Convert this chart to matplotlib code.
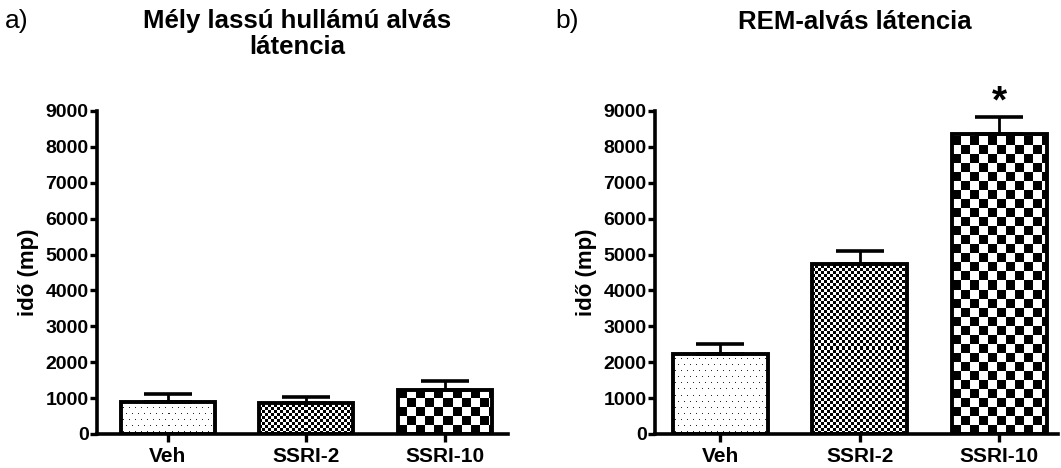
import numpy as np
import matplotlib
matplotlib.use("Agg")
import matplotlib.pyplot as plt

plt.rcParams['font.family'] = ['Liberation Sans', 'DejaVu Sans']

categories = ["Veh", "SSRI-2", "SSRI-10"]
swsl_mean = [890, 850, 1225]
swsl_sem = [220, 180, 255]
rem_mean = [2240, 4740, 8370]
rem_sem = [270, 370, 470]
patterns = ["dots", "fine", "coarse"]
yticks = [0, 1000, 2000, 3000, 4000, 5000, 6000, 7000, 8000, 9000]

W, H, DPI = 1061, 468, 100
fig = plt.figure(figsize=(W / DPI, H / DPI), dpi=DPI)


def make_pattern(kind, w, h):
    yy, xx = np.mgrid[0:h, 0:w]
    if kind == "coarse":
        c = 9
        img = np.where(((xx // c) + (yy // c)) % 2 == 0, 0.0, 1.0)
    elif kind == "fine":
        c = 3
        img = np.where(((xx // c) + (yy // c)) % 2 == 0, 0.0, 1.0)
    else:
        p = 6
        row = yy // p
        shift = (row % 2) * (p // 2)
        dots = ((yy % p) == 2) & (((xx + shift) % p) == 2)
        img = np.where(dots, 0.15, 1.0)
    return img


def panel(rect, means, sems, xlim, star=False):
    ax = fig.add_axes(rect)
    x = np.arange(len(categories))
    ax.set_xlim(*xlim)
    ax.set_ylim(0, 9000)
    bars = ax.bar(x, means, width=0.68, facecolor='none', edgecolor='black',
                  linewidth=2.8, zorder=3)
    fig.canvas.draw()
    for b, kind in zip(bars, patterns):
        x0, y0 = b.get_x(), b.get_y()
        x1, y1 = x0 + b.get_width(), y0 + b.get_height()
        p0 = ax.transData.transform((x0, y0))
        p1 = ax.transData.transform((x1, y1))
        wpx = max(int(round(abs(p1[0] - p0[0]))), 1)
        hpx = max(int(round(abs(p1[1] - p0[1]))), 1)
        img = make_pattern(kind, wpx, hpx)
        im = ax.imshow(img, cmap='gray', vmin=0, vmax=1, extent=(x0, x1, y0, y1),
                       origin='lower', interpolation='nearest', aspect='auto', zorder=2)
        im.set_clip_path(b)
    ax.set_aspect('auto')
    ax.set_xlim(*xlim)
    ax.set_ylim(0, 9000)
    ax.errorbar(x, means, yerr=[np.zeros(len(sems)), sems], fmt='none',
                ecolor='black', elinewidth=2.0, capsize=17, capthick=2.6, zorder=4)
    for s in ['top', 'right']:
        ax.spines[s].set_visible(False)
    for s in ['left', 'bottom']:
        ax.spines[s].set_linewidth(2.6)
    ax.set_yticks(yticks)
    ax.set_xticks(x)
    ax.set_xticklabels(categories, fontsize=15, fontweight='bold')
    ax.tick_params(axis='y', labelsize=14, width=2.4, length=5, pad=1)
    for t in ax.get_yticklabels():
        t.set_fontweight('bold')
    ax.tick_params(axis='x', width=2.4, length=6, pad=3)
    ax.set_ylabel("idő (mp)", fontsize=16, fontweight='bold', labelpad=5)
    if star:
        ax.text(x[-1], means[-1] + sems[-1] + 400, "*", ha='center', va='center',
                fontsize=28, fontweight='bold')
    return ax


panel([97 / W, 34 / H, 411 / W, 323 / H], swsl_mean, swsl_sem, (-0.51, 2.455))
panel([655 / W, 34 / H, 403 / W, 323 / H], rem_mean, rem_sem, (-0.466, 2.42), star=True)

fig.text(297 / W, 1 - 34 / H, "Mély lassú hullámú alvás\nlátencia", fontsize=18.5,
         fontweight='bold', ha='center', va='center', linespacing=1.15)
fig.text(855 / W, 1 - 22 / H, "REM-alvás látencia", fontsize=18.5,
         fontweight='bold', ha='center', va='center')
fig.text(5 / W, 1 - 21 / H, "a)", fontsize=19, ha='left', va='center')
fig.text(555 / W, 1 - 21 / H, "b)", fontsize=19, ha='left', va='center')

fig.savefig("out.png", dpi=DPI)
